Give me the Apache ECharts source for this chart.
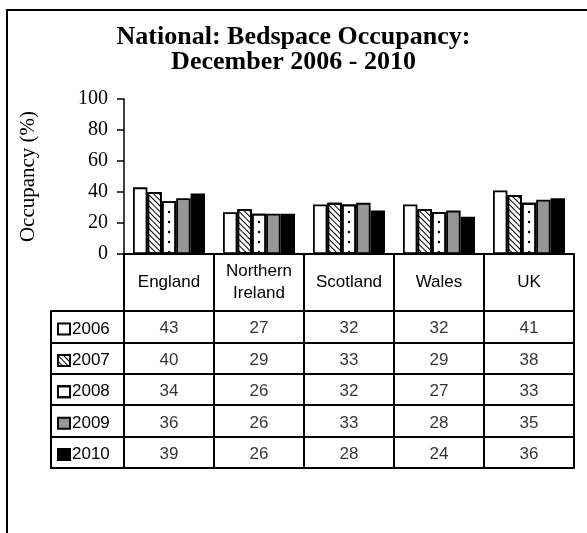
<!DOCTYPE html>
<html>
<head>
<meta charset="utf-8">
<script src="https://cdn.jsdelivr.net/npm/echarts@6/dist/echarts.min.js"></script>
<style>
  html, body { margin: 0; padding: 0; background: #fff; }
  #chart { width: 587px; height: 533px; }
</style>
</head>
<body>
<div id="chart"></div>
<script>
// Regions shown as categories, and one array of occupancy (%) per year
const regions = ['England', 'Northern\nIreland', 'Scotland', 'Wales', 'UK'];
const years = ['2006', '2007', '2008', '2009', '2010'];
const occ2006 = [43, 27, 32, 32, 41];
const occ2007 = [40, 29, 33, 29, 38];
const occ2008 = [34, 26, 32, 27, 33];
const occ2009 = [36, 26, 33, 28, 35];
const occ2010 = [39, 26, 28, 24, 36];
const yearValues = [occ2006, occ2007, occ2008, occ2009, occ2010];
const yMin = 0, yMax = 100, yStep = 20;

const SANS = 'Liberation Sans, Arial, sans-serif';
const SERIF = 'Liberation Serif, Times New Roman, serif';

// Fill style per year: plain, diagonal hatch, dotted, grey, black
const yearFills = [
  { color: '#ffffff' },
  { color: '#ffffff', decal: { symbol: 'rect', symbolSize: 1, dashArrayX: [1, 0], dashArrayY: [1, 3], rotation: Math.PI / 4, color: '#000000' } },
  { color: '#ffffff', decal: { symbol: 'circle', symbolSize: 0.6, dashArrayX: [0, 77, 4, 9], dashArrayY: [4, 6], color: '#000000' } },
  { color: '#969696' },
  { color: '#000000' }
];

const barSeries = years.map((y, i) => ({
  name: y,
  type: 'bar',
  xAxisIndex: 0,
  yAxisIndex: 0,
  data: yearValues[i],
  barGap: '0%',
  barCategoryGap: '20%',
  itemStyle: Object.assign({ borderColor: '#000', borderWidth: 1.8 }, yearFills[i])
}));

// Table cells: [region index, year index, value]
const cells = [];
yearValues.forEach((vals, yi) => vals.forEach((v, ri) => cells.push([ri, yi, v])));

const lineBlack = { color: '#000', width: 2 };

const chart = echarts.init(document.getElementById('chart'), null, { renderer: 'canvas' });
chart.setOption({
  animation: false,
  backgroundColor: '#fff',
  title: {
    text: 'National: Bedspace Occupancy:\nDecember 2006 - 2010',
    left: 'center',
    top: 20,
    textStyle: { fontFamily: SERIF, fontWeight: 'bold', fontSize: 26, lineHeight: 25, color: '#000' }
  },
  graphic: [{
    type: 'rect',
    shape: { x: 7, y: 10, width: 600, height: 560 },
    style: { fill: null, stroke: '#000', lineWidth: 2 },
    silent: true
  }],
  legend: {
    orient: 'vertical',
    left: 57,
    top: 320.5,
    padding: 0,
    icon: 'rect',
    itemWidth: 12,
    itemHeight: 11,
    itemGap: 14.4,
    selectedMode: false,
    data: years,
    itemStyle: { borderColor: '#000', borderWidth: 2 },
    textStyle: { fontFamily: SANS, fontSize: 17, color: '#000', lineHeight: 17, padding: [0, 0, 0, -3] }
  },
  grid: [
    { left: 124, right: 13, top: 99, height: 155 },
    { left: 124, right: 13, top: 311, height: 157 },
    { left: 51, width: 73, top: 311, height: 157 }
  ],
  xAxis: [
    {
      gridIndex: 0, type: 'category', data: regions,
      axisLine: { lineStyle: lineBlack },
      axisTick: { show: true, alignWithLabel: false, interval: 0, length: 57, lineStyle: lineBlack },
      axisLabel: { interval: 0, margin: 28, verticalAlign: 'middle', fontFamily: SANS, fontSize: 17, lineHeight: 22, color: '#000' }
    },
    {
      gridIndex: 1, type: 'category', data: regions,
      axisLine: { lineStyle: lineBlack }, axisTick: { show: false }, axisLabel: { show: false },
      splitLine: { show: true, interval: 0, lineStyle: lineBlack }
    },
    {
      gridIndex: 2, type: 'category', data: [''],
      axisLine: { lineStyle: lineBlack }, axisTick: { show: false }, axisLabel: { show: false }
    }
  ],
  yAxis: [
    {
      gridIndex: 0, type: 'value', min: yMin, max: yMax, interval: yStep,
      name: 'Occupancy (%)', nameLocation: 'middle', nameGap: 85,
      nameTextStyle: { fontFamily: SERIF, fontSize: 21, color: '#000' },
      axisLine: { show: true, lineStyle: { color: '#000', width: 1.5 } },
      axisTick: { show: true, length: 7, lineStyle: { color: '#000', width: 1.5 } },
      axisLabel: { margin: 16, fontFamily: SERIF, fontSize: 20, color: '#000' },
      splitLine: { show: false }
    },
    {
      gridIndex: 1, type: 'category', data: years, inverse: true,
      axisLine: { lineStyle: lineBlack }, axisTick: { show: false }, axisLabel: { show: false },
      splitLine: { show: true, interval: 0, lineStyle: lineBlack }
    },
    {
      gridIndex: 2, type: 'category', data: years, inverse: true,
      axisLine: { lineStyle: lineBlack }, axisTick: { show: false }, axisLabel: { show: false },
      splitLine: { show: true, interval: 0, lineStyle: lineBlack }
    }
  ],
  series: barSeries.concat([{
    name: 'table',
    type: 'scatter',
    xAxisIndex: 1,
    yAxisIndex: 1,
    symbolSize: 1,
    itemStyle: { color: 'rgba(0,0,0,0)' },
    silent: true,
    data: cells,
    label: {
      show: true, position: 'inside', offset: [0, 2],
      formatter: p => String(p.value[2]),
      fontFamily: SANS, fontSize: 17, color: '#000'
    }
  }])
});
</script>
</body>
</html>
